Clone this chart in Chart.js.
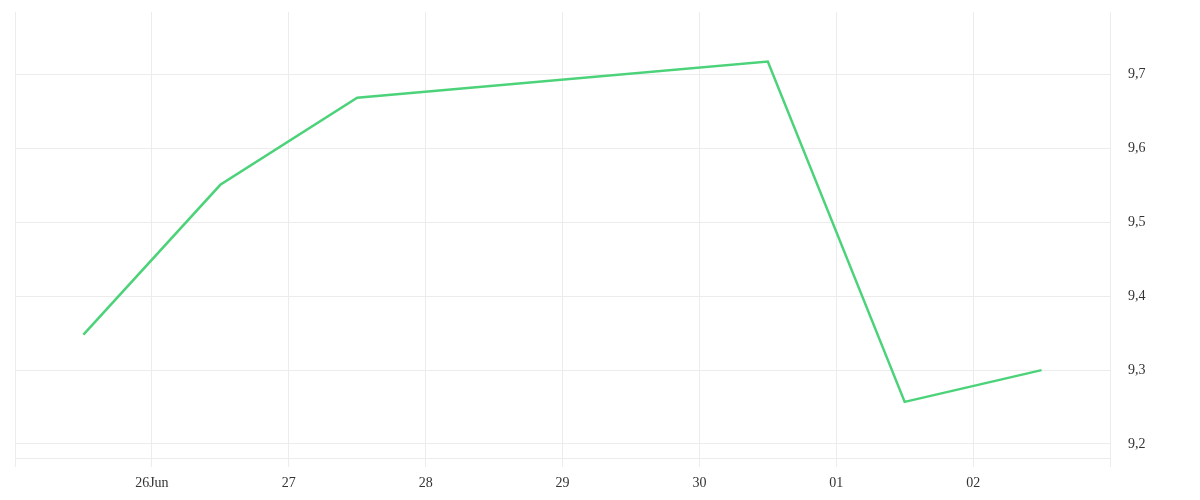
<!DOCTYPE html>
<html lang="en">
<head>
    <meta charset="UTF-8">
    <title>Line chart</title>
    <script src="https://cdn.jsdelivr.net/npm/chart.js"></script>
    <style>
        html, body { margin: 0; padding: 0; background: #fff; }
        #wrap { width: 1200px; height: 500px; }
    </style>
</head>
<body>
    <div id="wrap"><canvas id="chart" width="1200" height="500"></canvas></div>

    <script>
        // days counted from 25 Jun 00:00, values sit at midday
        const dayPos = [0.5, 1.5, 2.5, 3.5, 4.5, 5.5, 6.5, 7.5];
        const values = [9.348, 9.551, 9.669, null, null, 9.718, 9.257, 9.300];
        const dayLabels = ['', '26Jun', '27', '28', '29', '30', '01', '02', ''];
        const yTicks = [9.2, 9.3, 9.4, 9.5, 9.6, 9.7];

        const gridColor = '#ececec';
        const tickFont = { family: 'Liberation Serif', size: 14 };

        const ctx = document.getElementById('chart').getContext('2d');
        new Chart(ctx, {
            type: 'line',
            data: {
                datasets: [{
                    data: dayPos.map((x, i) => ({ x: x, y: values[i] })),
                    borderColor: '#4cd37a',
                    borderWidth: 2.5,
                    pointRadius: 0,
                    tension: 0,
                    spanGaps: true,
                    fill: false
                }]
            },
            options: {
                responsive: false,
                animation: false,
                layout: { padding: { left: 15, top: 12, right: 0, bottom: 0 } },
                plugins: { legend: { display: false }, tooltip: { enabled: false } },
                scales: {
                    x: {
                        type: 'linear',
                        min: 0,
                        max: 8,
                        afterFit: s => { s.height = 42; s.paddingLeft = 0; s.paddingRight = 0; },
                        grid: { color: gridColor, tickLength: 9, tickColor: gridColor },
                        border: { color: gridColor },
                        ticks: {
                            stepSize: 1,
                            autoSkip: false,
                            maxRotation: 0,
                            padding: 8,
                            color: '#333',
                            font: tickFont,
                            callback: v => dayLabels[v] ?? ''
                        }
                    },
                    y: {
                        position: 'right',
                        min: 9.181,
                        max: 9.785,
                        afterFit: s => { s.width = 90; s.paddingTop = 0; s.paddingBottom = 0; },
                        afterBuildTicks: s => { s.ticks = yTicks.map(v => ({ value: v })); },
                        grid: { color: gridColor, drawTicks: false },
                        border: { color: gridColor },
                        ticks: {
                            padding: 18,
                            color: '#333',
                            font: tickFont,
                            callback: v => v.toFixed(1).replace('.', ',')
                        }
                    }
                }
            }
        });
    </script>
</body>
</html>
